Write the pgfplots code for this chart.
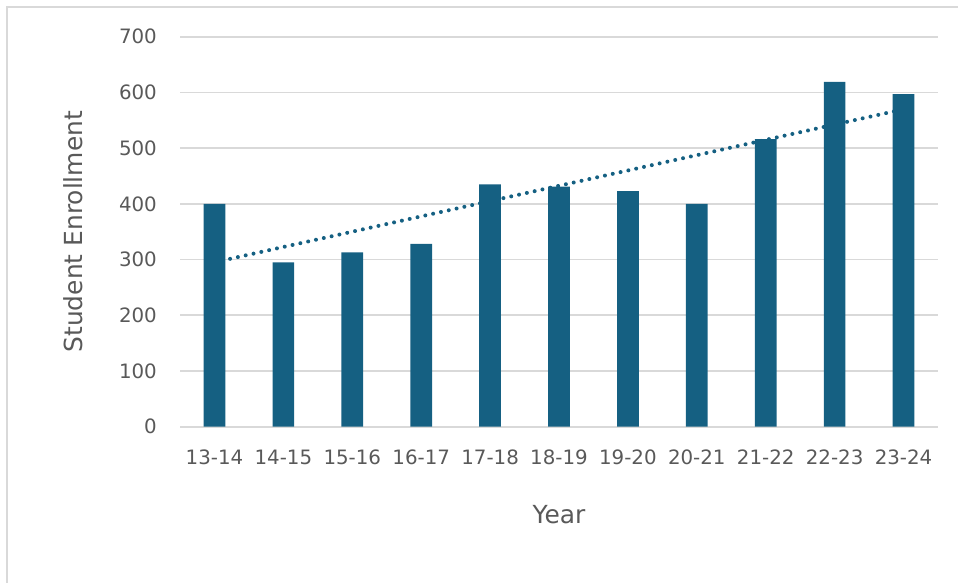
\documentclass[border=0pt]{standalone}
\usepackage{pgfplots}
\pgfplotsset{compat=1.18}
\usepackage{fontspec}
\setmainfont{DejaVu Sans}
\definecolor{barblue}{HTML}{156082}
\definecolor{gridgray}{HTML}{D9D9D9}
\definecolor{txtgray}{HTML}{595959}
\begin{document}
\begin{tikzpicture}[x=1pt,y=1pt]
\useasboundingbox (0,0) rectangle (958,582);
\clip (0,0) rectangle (958,582);
\draw[gridgray, line width=2pt] (7,-20) -- (7,574.7) -- (990,574.7);
\begin{axis}[
  at={(180pt,155.3pt)}, anchor=south west,
  scale only axis, width=758pt, height=390pt,
  xmin=-0.5, xmax=10.5, ymin=0, ymax=700,
  xtick={0,...,10},
  xticklabels={13-14,14-15,15-16,16-17,17-18,18-19,19-20,20-21,21-22,22-23,23-24},
  ytick={0,100,...,700},
  axis line style={draw=none},
  major tick length=0pt,
  ymajorgrids, grid style={line width=1.6pt, color=gridgray},
  /pgf/number format/assume math mode=true,
  tick label style={font=\fontsize{19.8}{24}\selectfont, text=txtgray, inner sep=0pt},
  yticklabel style={anchor=east, xshift=-23pt},
  xticklabel style={anchor=north, yshift=-23.3pt},
  xlabel={Year},
  ylabel={Student Enrollment},
  label style={font=\fontsize{24.9}{30}\selectfont, text=txtgray, inner sep=0pt},
  xlabel style={at={(axis description cs:0.5,-0.2008)}, anchor=north},
  ylabel style={at={(axis description cs:-0.12797,0.5)}, anchor=south, rotate=0},
  clip=false,
]
\addplot[barblue, line width=4pt, line cap=round, dash pattern=on 0pt off 8pt]
  coordinates {(0,295.1) (10,569.8)};
\addplot[ybar, bar width=21.7pt, fill=barblue, draw=none]
  coordinates {(0,400) (1,295) (2,313) (3,328) (4,435) (5,431) (6,423) (7,400) (8,516) (9,619) (10,597)};
\end{axis}
\end{tikzpicture}
\end{document}
